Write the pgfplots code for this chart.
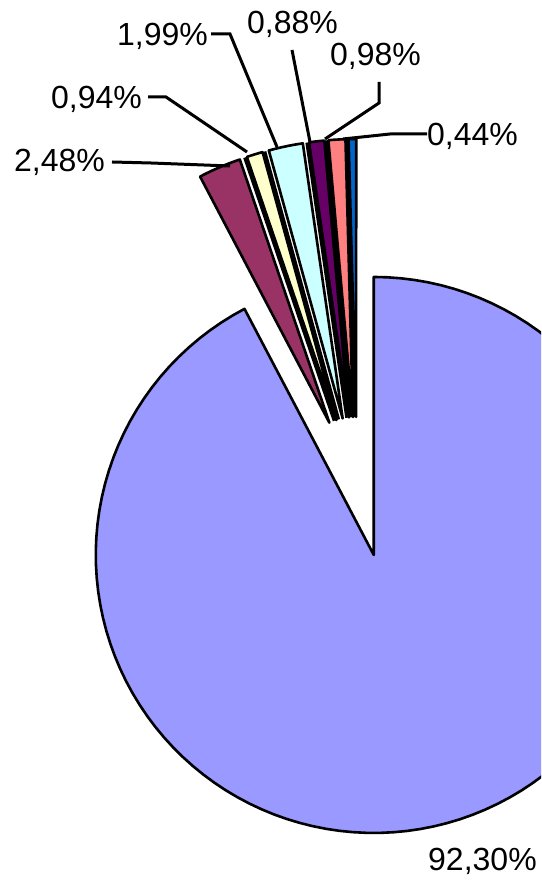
\documentclass[border=0pt]{standalone}
\usepackage{pgfplots}
\pgfplotsset{compat=1.18}
\usepackage{fontspec}
\setmainfont{Liberation Sans}
\definecolor{bigc}{HTML}{9999FF}
\definecolor{magc}{HTML}{993366}
\definecolor{yelc}{HTML}{FFFFCC}
\definecolor{cyac}{HTML}{CCFFFF}
\definecolor{purc}{HTML}{660066}
\definecolor{pinc}{HTML}{FF8080}
\definecolor{bluc}{HTML}{0066CC}
% pie geometry (pixel units): centre, explosion distance, radius
\def\cx{357}\def\cy{394}\def\ex{70}\def\rr{278}
\newcommand\cura{90}
\newcommand\slice[2]{%
  \pgfmathsetmacro\sa{\cura}%
  \pgfmathsetmacro\ea{\cura-3.6*#1}%
  \pgfmathsetmacro\ma{(\sa+\ea)/2}%
  \pgfmathsetmacro\tx{\cx+\ex*cos(\ma)}%
  \pgfmathsetmacro\ty{\cy+\ex*sin(\ma)}%
  \xdef\cura{\ea}%
  \ifdim #1pt=0pt
    \pgfmathsetmacro\ox{\tx+\rr*cos(\sa)}%
    \pgfmathsetmacro\oy{\ty+\rr*sin(\sa)}%
    \edef\doit{\noexpand\addplot[draw=black, line width=3.5pt] coordinates {(\tx,\ty) (\ox,\oy)};}%
  \else
    \edef\doit{\noexpand\addplot[fill=#2, draw=black, line width=2.6pt, line join=round, domain=\ea:\sa, samples=120] ({\tx+\rr*cos(x)}, {\ty+\rr*sin(x)}) -- (axis cs:\tx,\ty) -- cycle;}%
  \fi
  \doit
}
\begin{document}
\begin{tikzpicture}
\useasboundingbox (0,0) rectangle (541pt,881pt);
\clip (0,0) rectangle (541pt,881pt);
\begin{axis}[hide axis, scale only axis, width=541pt, height=881pt,
  xmin=0, xmax=541, ymin=0, ymax=881, anchor=south west, at={(0,0)}, clip=false]
% slices, clockwise from 12 o'clock (values in %)
\slice{92.30}{bigc}
\slice{2.48}{magc}
\slice{0}{black}
\slice{0.94}{yelc}
\slice{0}{black}
\slice{1.99}{cyac}
\slice{0}{black}
\slice{0.88}{purc}
\slice{0}{black}
\slice{0.98}{pinc}
\slice{0}{black}
\slice{0.44}{bluc}
% leader lines
\addplot[black, line width=3pt] coordinates {(211,847) (230,847) (277,734)};
\addplot[black, line width=3pt] coordinates {(292,831) (310,739)};
\addplot[black, line width=3pt] coordinates {(379,799) (379,778) (325,742)};
\addplot[black, line width=3pt] coordinates {(148,784) (166,784) (247,729)};
\addplot[black, line width=3pt] coordinates {(427,747) (390,747) (343,742)};
\addplot[black, line width=3pt] coordinates {(112,719) (151,718) (230,715)};
% labels
\tikzset{lab/.style={anchor=base west, inner sep=0pt, font=\fontsize{32}{32}\selectfont}}
\node[lab] at (axis cs:117,835) {1,99\%};
\node[lab] at (axis cs:247,847) {0,88\%};
\node[lab] at (axis cs:330,815) {0,98\%};
\node[lab] at (axis cs:51,772) {0,94\%};
\node[lab] at (axis cs:427,735) {0,44\%};
\node[lab] at (axis cs:14,709) {2,48\%};
\node[lab] at (axis cs:428,10) {92,30\%};
\end{axis}
\end{tikzpicture}
\end{document}
